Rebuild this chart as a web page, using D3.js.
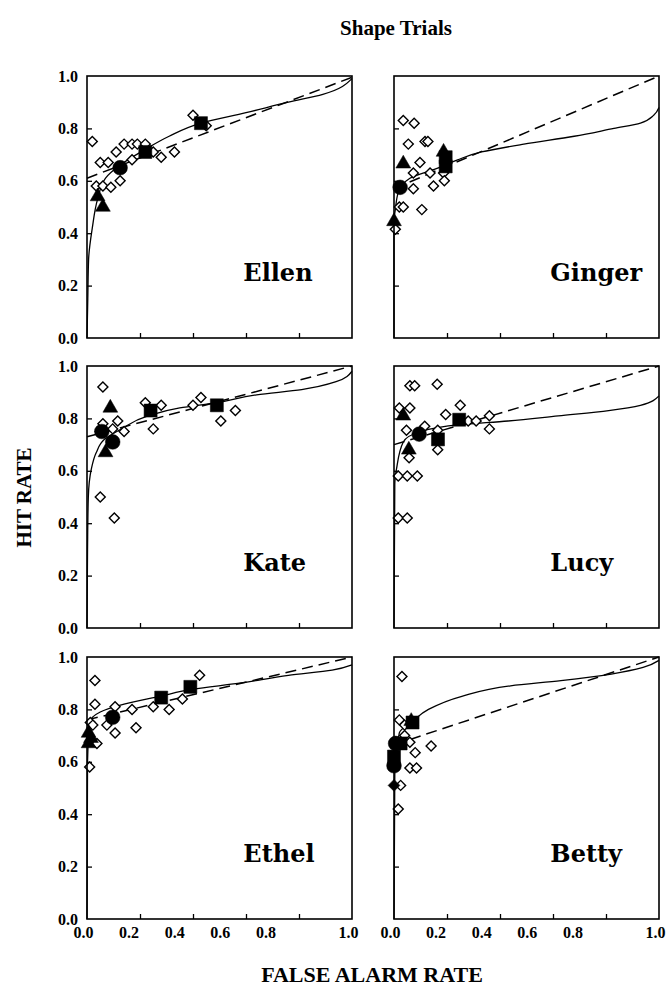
<!DOCTYPE html>
<html lang="en">
<head>
<meta charset="UTF-8">
<title>Shape Trials</title>
<script src="https://d3js.org/d3.v7.min.js"></script>
<style>
  body { margin: 0; background: #fff; overflow: hidden; }
  text { font-family: 'Liberation Serif', 'Times New Roman', serif; font-weight: bold; fill: #000; }
  .name { font-family: 'DejaVu Serif', serif; }
</style>
</head>
<body>
<div id="chart"></div>
<script>
// points are [false alarm rate, hit rate, kind]
// kind: o = open diamond, t = triangle, c = circle, s = square, f = filled diamond
const ellenPoints = [
  [0.02,0.75,"o"],[0.05,0.67,"o"],[0.08,0.67,"o"],[0.11,0.71,"o"],[0.14,0.74,"o"],[0.17,0.74,"o"],
  [0.19,0.74,"o"],[0.22,0.74,"o"],[0.17,0.68,"o"],[0.25,0.71,"o"],[0.28,0.69,"o"],[0.33,0.71,"o"],
  [0.40,0.85,"o"],[0.45,0.81,"o"],[0.035,0.58,"o"],[0.06,0.58,"o"],[0.09,0.575,"o"],[0.125,0.60,"o"],
  [0.04,0.54,"t"],[0.06,0.50,"t"],[0.125,0.65,"c"],[0.22,0.71,"s"],[0.43,0.82,"s"]
];
const ellenSolid = [[0,0],[0.003,0.15],[0.006,0.30],[0.02,0.42],[0.04,0.53],[0.07,0.61],[0.125,0.66],
  [0.22,0.72],[0.31,0.77],[0.43,0.82],[0.6,0.86],[0.76,0.90],[0.89,0.93],[1,0.99]];
const ellenDashed = [[0,0.61],[1,0.995]];

const gingerPoints = [
  [0.035,0.83,"o"],[0.076,0.82,"o"],[0.054,0.74,"o"],[0.117,0.75,"o"],[0.128,0.75,"o"],[0.098,0.67,"o"],
  [0.073,0.63,"o"],[0.136,0.63,"o"],[0.187,0.63,"o"],[0.073,0.57,"o"],[0.149,0.58,"o"],[0.02,0.50,"o"],
  [0.035,0.50,"o"],[0.105,0.49,"o"],[0.005,0.415,"o"],[0.19,0.60,"o"],
  [0.187,0.71,"t"],[0.035,0.665,"t"],[0.0,0.445,"t"],[0.023,0.575,"c"],[0.195,0.69,"s"],[0.195,0.655,"s"]
];
const gingerSolid = [[0,0],[0,0.45],[0.005,0.49],[0.016,0.555],[0.06,0.61],[0.17,0.65],[0.24,0.68],
  [0.33,0.71],[0.49,0.74],[0.68,0.77],[0.83,0.80],[0.93,0.82],[0.98,0.85],[1,0.88]];
const gingerDashed = [[0,0.57],[1,1]];

const katePoints = [
  [0.06,0.92,"o"],[0.06,0.78,"o"],[0.116,0.79,"o"],[0.14,0.75,"o"],[0.05,0.75,"o"],[0.097,0.76,"o"],
  [0.22,0.86,"o"],[0.28,0.85,"o"],[0.25,0.76,"o"],[0.40,0.85,"o"],[0.43,0.88,"o"],[0.505,0.79,"o"],
  [0.56,0.83,"o"],[0.05,0.50,"o"],[0.103,0.42,"o"],
  [0.088,0.84,"t"],[0.07,0.67,"t"],[0.097,0.71,"c"],[0.056,0.75,"c"],[0.24,0.83,"s"],[0.49,0.85,"s"]
];
const kateSolid = [[0,0],[0.002,0.3],[0.005,0.5],[0.016,0.605],[0.035,0.67],[0.066,0.72],[0.13,0.76],
  [0.23,0.81],[0.35,0.84],[0.49,0.86],[0.64,0.89],[0.81,0.91],[0.94,0.94],[1,0.98]];
const kateDashed = [[0,0.73],[1,1]];

const lucyPoints = [
  [0.06,0.925,"o"],[0.078,0.925,"o"],[0.163,0.93,"o"],[0.02,0.84,"o"],[0.06,0.84,"o"],[0.25,0.85,"o"],
  [0.195,0.815,"o"],[0.116,0.77,"o"],[0.047,0.755,"o"],[0.165,0.755,"o"],[0.28,0.79,"o"],[0.31,0.79,"o"],
  [0.36,0.81,"o"],[0.36,0.76,"o"],[0.165,0.68,"o"],[0.057,0.65,"o"],[0.016,0.58,"o"],[0.05,0.58,"o"],
  [0.088,0.58,"o"],[0.016,0.42,"o"],[0.05,0.42,"o"],
  [0.035,0.81,"t"],[0.056,0.68,"t"],[0.095,0.74,"c"],[0.166,0.72,"s"],[0.246,0.795,"s"]
];
const lucySolid = [[0,0],[0.003,0.55],[0.01,0.61],[0.035,0.71],[0.1,0.75],[0.25,0.776],[0.43,0.79],
  [0.62,0.81],[0.81,0.83],[0.93,0.85],[1,0.886]];
const lucyDashed = [[0,0.70],[1,1]];

const ethelPoints = [
  [0.03,0.91,"o"],[0.03,0.82,"o"],[0.106,0.81,"o"],[0.17,0.80,"o"],[0.25,0.81,"o"],[0.31,0.80,"o"],
  [0.36,0.84,"o"],[0.425,0.93,"o"],[0.0125,0.75,"o"],[0.022,0.74,"o"],[0.075,0.74,"o"],[0.106,0.71,"o"],
  [0.185,0.73,"o"],[0.0375,0.67,"o"],[0.01,0.58,"o"],
  [0.006,0.71,"t"],[0.006,0.67,"t"],[0.015,0.69,"t"],[0.097,0.77,"c"],[0.28,0.845,"s"],[0.39,0.886,"s"]
];
const ethelSolid = [[0,0],[0.002,0.6],[0.01,0.75],[0.05,0.79],[0.14,0.82],[0.275,0.85],[0.4,0.877],
  [0.575,0.90],[0.76,0.93],[0.925,0.95],[1,0.97]];
const ethelDashed = [[0,0.76],[1,1]];

const bettyPoints = [
  [0.03,0.926,"o"],[0.02,0.76,"o"],[0.04,0.74,"o"],[0.04,0.70,"o"],[0.06,0.675,"o"],[0.08,0.635,"o"],
  [0.14,0.66,"o"],[0.06,0.576,"o"],[0.085,0.576,"o"],[0.025,0.51,"o"],[0.016,0.42,"o"],
  [0.065,0.755,"t"],[0.006,0.67,"c"],[0.0,0.585,"c"],[0.07,0.75,"s"],[0.025,0.67,"s"],[0.0,0.62,"s"],
  [0.0,0.51,"f"]
];
const bettySolid = [[0,0],[0.003,0.55],[0.02,0.71],[0.07,0.755],[0.13,0.80],[0.256,0.85],[0.44,0.89],
  [0.63,0.91],[0.82,0.935],[0.94,0.96],[1,0.987]];
const bettyDashed = [[0,0.665],[1,1]];

const names = ["Ellen", "Ginger", "Kate", "Lucy", "Ethel", "Betty"];
const tickLabels = [0, 0.2, 0.4, 0.6, 0.8, 1.0];
const innerTicks = [0.2, 0.4, 0.6, 0.8];

const panels = [
  { points: ellenPoints, solid: ellenSolid, dashed: ellenDashed },
  { points: gingerPoints, solid: gingerSolid, dashed: gingerDashed },
  { points: katePoints, solid: kateSolid, dashed: kateDashed },
  { points: lucyPoints, solid: lucySolid, dashed: lucyDashed },
  { points: ethelPoints, solid: ethelSolid, dashed: ethelDashed },
  { points: bettyPoints, solid: bettySolid, dashed: bettyDashed }
];

const W = 669, H = 1002;
const pw = 265, ph = 262;
const colX = [87, 394];
const rowY = [76, 366, 657];

const svg = d3.select("#chart").append("svg")
  .attr("width", W).attr("height", H);

const x = d3.scaleLinear().domain([0, 1]).range([0, pw]);
const y = d3.scaleLinear().domain([0, 1]).range([ph, 0]);

const line = d3.line()
  .x(d => x(d[0]))
  .y(d => y(d[1]))
  .curve(d3.curveMonotoneY);

const symbolFor = {
  o: d3.symbol().type(d3.symbolSquare).size(50)(),
  f: d3.symbol().type(d3.symbolSquare).size(70)(),
  t: d3.symbol().type(d3.symbolTriangle).size(95)(),
  c: d3.symbol().type(d3.symbolCircle).size(170)(),
  s: d3.symbol().type(d3.symbolSquare).size(170)()
};
const order = { o: 0, t: 1, c: 1, s: 1, f: 1 };

panels.forEach((p, i) => {
  const col = i % 2, row = Math.floor(i / 2);
  const g = svg.append("g")
    .attr("transform", `translate(${colX[col]},${rowY[row]})`);

  // inward tick marks
  g.append("g")
    .call(d3.axisRight(y).tickValues(innerTicks).tickSize(5).tickFormat(""))
    .call(a => a.select(".domain").remove())
    .selectAll("line").attr("stroke-width", 1.3);
  g.append("g")
    .attr("transform", `translate(0,${ph})`)
    .call(d3.axisTop(x).tickValues(innerTicks).tickSize(5).tickFormat(""))
    .call(a => a.select(".domain").remove())
    .selectAll("line").attr("stroke-width", 1.3);

  if (col === 0) {
    g.append("g")
      .call(d3.axisLeft(y).tickValues(tickLabels).tickSize(0).tickPadding(9).tickFormat(d3.format(".1f")))
      .call(a => a.select(".domain").remove())
      .selectAll("text").attr("font-size", 16).style("font-family", "'Liberation Serif', serif")
      .style("font-weight", "bold");
  }
  if (row === 2) {
    // the printed labels sit a little left of their ticks, as in the original figure
    g.append("g")
      .attr("transform", `translate(0,${ph})`)
      .call(d3.axisBottom(x).tickValues(tickLabels).tickSize(0).tickPadding(8).tickFormat(d3.format(".1f")))
      .call(a => a.select(".domain").remove())
      .selectAll("text").attr("font-size", 16).style("font-family", "'Liberation Serif', serif")
      .style("font-weight", "bold")
      .attr("dx", d => d < 1 ? -(4 + 37 * d) : -4);
  }

  g.append("path")
    .datum(p.dashed)
    .attr("d", line)
    .attr("fill", "none")
    .attr("stroke", "#000")
    .attr("stroke-width", 1.5)
    .attr("stroke-dasharray", "11,6");

  g.append("path")
    .datum(p.solid)
    .attr("d", line)
    .attr("fill", "none")
    .attr("stroke", "#000")
    .attr("stroke-width", 1.3);

  g.append("g").selectAll("path")
    .data(p.points.slice().sort((a, b) => order[a[2]] - order[b[2]]))
    .join("path")
    .attr("d", d => symbolFor[d[2]])
    .attr("transform", d => {
      const rot = (d[2] === "o" || d[2] === "f") ? " rotate(45)" : "";
      return `translate(${x(d[0])},${y(d[1])})${rot}`;
    })
    .attr("fill", d => d[2] === "o" ? "#fff" : "#000")
    .attr("stroke", "#000")
    .attr("stroke-width", d => d[2] === "o" ? 1.4 : 0.5);

  g.append("rect")
    .attr("width", pw).attr("height", ph)
    .attr("fill", "none")
    .attr("stroke", "#000")
    .attr("stroke-width", 1.6);

  g.append("text")
    .attr("class", "name")
    .attr("x", x(0.59))
    .attr("y", y(0.25))
    .attr("dy", "0.35em")
    .attr("font-size", 24)
    .text(names[i]);
});

svg.append("text")
  .attr("x", 396).attr("y", 35)
  .attr("text-anchor", "middle")
  .attr("font-size", 21)
  .text("Shape Trials");

svg.append("text")
  .attr("transform", `translate(31,${(rowY[0] + rowY[2] + ph) / 2}) rotate(-90)`)
  .attr("text-anchor", "middle")
  .attr("font-size", 21)
  .text("HIT RATE");

svg.append("text")
  .attr("x", 372).attr("y", 982)
  .attr("text-anchor", "middle")
  .attr("font-size", 22)
  .text("FALSE ALARM RATE");
</script>
</body>
</html>
